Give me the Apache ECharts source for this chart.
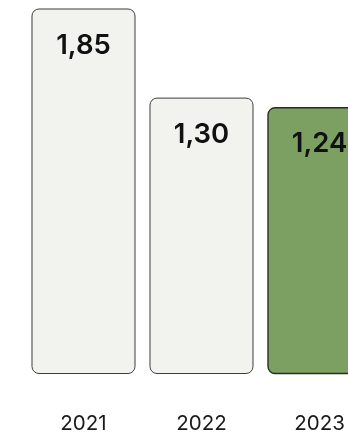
<!DOCTYPE html>
<html><head><meta charset="utf-8">
<script src="https://cdn.jsdelivr.net/npm/echarts@6/dist/echarts.min.js"></script>
<style>html,body{margin:0;padding:0;background:#fff}#c{width:348px;height:434px}</style>
</head><body><div id="c"></div>
<script>
const years = ['2021', '2022', '2023'];
const values = [1.85, 1.30, 1.24];
const fills = ['#f2f3ef', '#f2f3ef', '#7ba062'];
const borders = ['#3d3d3d', '#3d3d3d', '#263022'];
const strokeWidths = [1, 1, 1.4];
const yMin = -0.4;
const yMax = 1.85;

const chart = echarts.init(document.getElementById('c'), null, {renderer: 'canvas'});
chart.setOption({
  animation: false,
  grid: {left: 24.5, width: 354, top: 9, bottom: 60.5, containLabel: false, outerBoundsMode: 'none'},
  xAxis: {
    type: 'category', data: years,
    axisLine: {show: false}, axisTick: {show: false}, splitLine: {show: false},
    axisLabel: {margin: 40, fontSize: 20.5, color: '#1a1a1a', fontFamily: 'Inter'}
  },
  yAxis: {type: 'value', min: yMin, max: yMax, show: false},
  series: [{
    type: 'custom',
    clip: false,
    data: values.map((v, i) => [i, v]),
    renderItem: function (params, api) {
      const i = api.value(0);
      const v = api.value(1);
      const top = api.coord([i, v]);
      const bot = api.coord([i, yMin]);
      const bw = api.size([1, 0])[0] * 0.873;
      return {
        type: 'rect',
        shape: {x: top[0] - bw / 2, y: top[1], width: bw, height: bot[1] - top[1], r: 7},
        style: {fill: fills[i], stroke: borders[i], lineWidth: strokeWidths[i]},
        textContent: {
          style: {
            text: v.toFixed(2).replace('.', ','),
            fontSize: 27.5, fontWeight: 600, fill: '#111', fontFamily: 'Inter'
          }
        },
        textConfig: {position: 'insideTop', distance: 23}
      };
    }
  }]
});
</script>
</body></html>
